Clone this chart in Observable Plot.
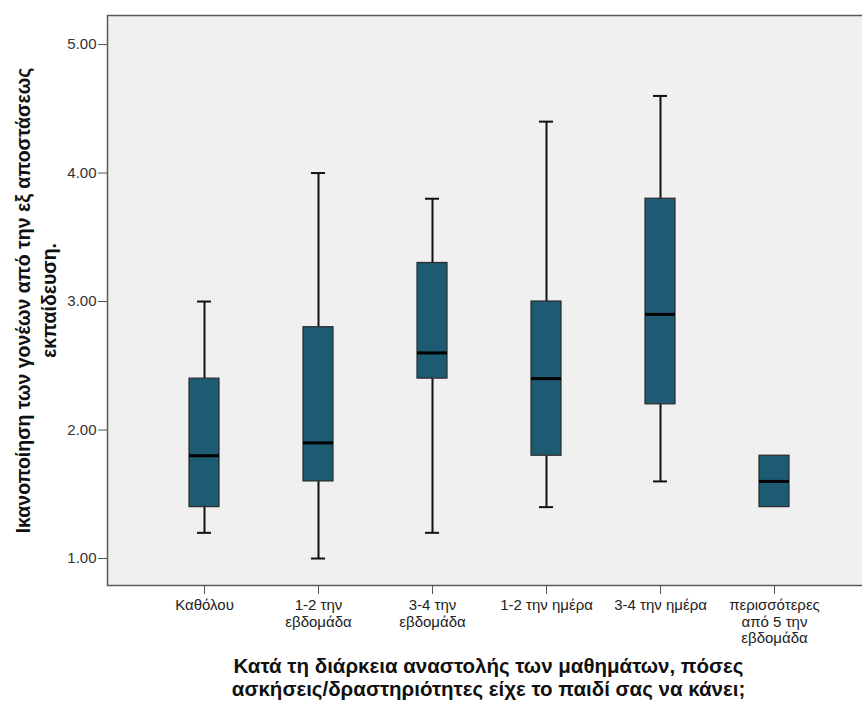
<!DOCTYPE html>
<html>
<head>
<meta charset="utf-8">
<script src="https://cdn.jsdelivr.net/npm/d3@7"></script>
<script src="https://cdn.jsdelivr.net/npm/@observablehq/plot@0.6"></script>
<style>
  html, body { margin: 0; padding: 0; background: #ffffff; }
  #chart svg { display: block; }
</style>
</head>
<body>
<div id="chart"></div>
<script>
const categories = [
  "Καθόλου",
  "1-2 την εβδομάδα",
  "3-4 την εβδομάδα",
  "1-2 την ημέρα",
  "3-4 την ημέρα",
  "περισσότερες από 5 την εβδομάδα"
];
const tickLabels = [
  "Καθόλου",
  "1-2 την\nεβδομάδα",
  "3-4 την\nεβδομάδα",
  "1-2 την ημέρα",
  "3-4 την ημέρα",
  "περισσότερες\nαπό 5 την\nεβδομάδα"
];
const whiskerHigh = [3.0, 4.0, 3.8, 4.4, 4.6, null];
const q3          = [2.4, 2.8, 3.3, 3.0, 3.8, 1.8];
const median      = [1.8, 1.9, 2.6, 2.4, 2.9, 1.6];
const q1          = [1.4, 1.6, 2.4, 1.8, 2.2, 1.4];
const whiskerLow  = [1.2, 1.0, 1.2, 1.4, 1.6, null];
const yTicks = [1, 2, 3, 4, 5];

const yTitle1 = "Ικανοποίηση των γονέων από την εξ αποστάσεως";
const yTitle2 = "εκπαίδευση.";
const xTitle1 = "Κατά τη διάρκεια αναστολής των μαθημάτων, πόσες";
const xTitle2 = "ασκήσεις/δραστηριότητες είχε το παιδί σας να κάνει;";

const rows = categories.map((c, i) => ({
  cat: c, hi: whiskerHigh[i], q3: q3[i], med: median[i], q1: q1[i], lo: whiskerLow[i]
}));
const withWhiskers = rows.filter(d => d.hi != null);
const labelOf = new Map(categories.map((c, i) => [c, tickLabels[i]]));

const boxFill = "#1d5b72";

const chart = Plot.plot({
  width: 862,
  height: 702,
  marginLeft: 107,
  marginRight: -3,
  marginTop: 15,
  marginBottom: 117,
  style: { fontFamily: "'Liberation Sans', Arial, sans-serif", background: "#ffffff" },
  x: {
    type: "band",
    domain: categories,
    range: [107, 871],
    paddingInner: 0.738,
    paddingOuter: 0.708,
    align: 0.5
  },
  y: { domain: [0.79, 5.226] },
  marks: [
    Plot.frame({ fill: "#f0f0f0", stroke: "#5a5a5a", strokeWidth: 1.5 }),
    Plot.axisY({
      ticks: yTicks, tickFormat: d3.format(".2f"), tickSize: 9, tickPadding: 2,
      fontSize: 15, color: "#333", label: null, stroke: "#555"
    }),
    Plot.axisX({
      tickFormat: d => labelOf.get(d), tickSize: 9, tickPadding: 4,
      fontSize: 15, color: "#222", label: null, lineHeight: 1.1, stroke: "#555"
    }),
    // whiskers
    Plot.ruleX(withWhiskers, { x: "cat", y1: "q3", y2: "hi", stroke: "#111", strokeWidth: 2 }),
    Plot.ruleX(withWhiskers, { x: "cat", y1: "lo", y2: "q1", stroke: "#111", strokeWidth: 2 }),
    Plot.tickY(withWhiskers, { x: "cat", y: "hi", stroke: "#111", strokeWidth: 2, insetLeft: 8, insetRight: 8 }),
    Plot.tickY(withWhiskers, { x: "cat", y: "lo", stroke: "#111", strokeWidth: 2, insetLeft: 8, insetRight: 8 }),
    // boxes
    Plot.barY(rows, { x: "cat", y1: "q1", y2: "q3", fill: boxFill, stroke: "#2a2a2a", strokeWidth: 1.2 }),
    // medians
    Plot.tickY(rows, { x: "cat", y: "med", stroke: "#000", strokeWidth: 3 }),
    // y title
    Plot.text([yTitle1], { frameAnchor: "left", textAnchor: "middle", lineAnchor: "middle", rotate: -90, dx: -84, dy: 0, fontSize: 19.5, fontWeight: "bold", fill: "#111" }),
    Plot.text([yTitle2], { frameAnchor: "left", textAnchor: "middle", lineAnchor: "middle", rotate: -90, dx: -58, dy: 0, fontSize: 19.5, fontWeight: "bold", fill: "#111" }),
    // x title
    Plot.text([xTitle1], { frameAnchor: "bottom", textAnchor: "middle", lineAnchor: "middle", dy: 81, dx: 2, fontSize: 20.5, fontWeight: "bold", fill: "#111" }),
    Plot.text([xTitle2], { frameAnchor: "bottom", textAnchor: "middle", lineAnchor: "middle", dy: 104, dx: 2, fontSize: 20.5, fontWeight: "bold", fill: "#111" })
  ]
});
document.getElementById("chart").appendChild(chart);
</script>
</body>
</html>
